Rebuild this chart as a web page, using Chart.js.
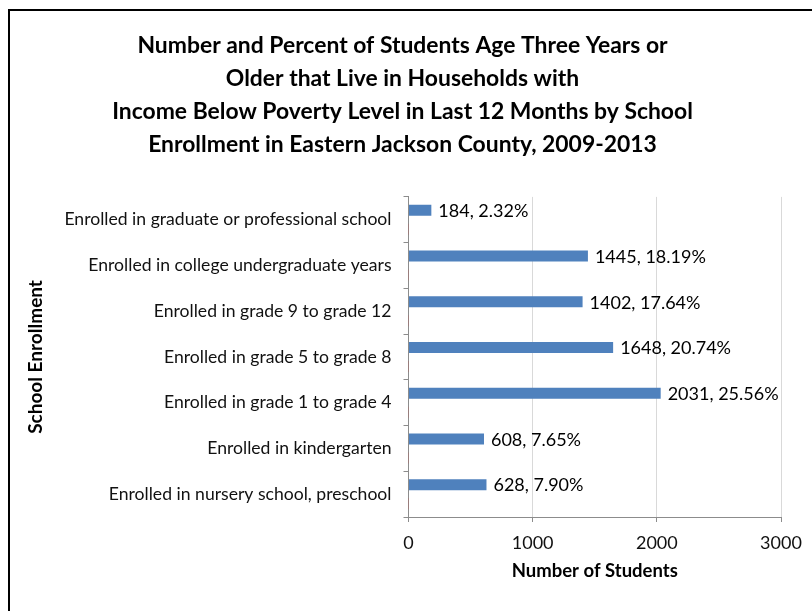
<!DOCTYPE html>
<html>
<head>
<meta charset="utf-8">
<script src="https://cdn.jsdelivr.net/npm/chart.js@4.4.1/dist/chart.umd.min.js"></script>
<style>
  html, body { margin: 0; padding: 0; background: #fff; overflow: hidden; }
  #frame { position: absolute; left: 8px; top: 9px; width: 900px; height: 700px;
           border-left: 2px solid #000; border-top: 2px solid #000; }
  #enrollChart { position: absolute; left: 0; top: 0; }
</style>
</head>
<body>
<div id="frame"></div>
<canvas id="enrollChart" width="812" height="611"></canvas>
<script>
const categories = [
  'Enrolled in graduate or professional school',
  'Enrolled in college undergraduate years',
  'Enrolled in grade 9 to grade 12',
  'Enrolled in grade 5 to grade 8',
  'Enrolled in grade 1 to grade 4',
  'Enrolled in kindergarten',
  'Enrolled in nursery school, preschool'
];
const students = [184, 1445, 1402, 1648, 2031, 608, 628];
const percents = [2.32, 18.19, 17.64, 20.74, 25.56, 7.65, 7.90];
const xTicks = [0, 1000, 2000, 3000];

const FONT = 'Lato, Calibri, sans-serif';

// "value, percent%" text to the right of each count bar
const barLabels = {
  id: 'barLabels',
  afterDatasetsDraw(chart) {
    const ctx = chart.ctx;
    const meta = chart.getDatasetMeta(0);
    ctx.save();
    ctx.font = '18px ' + FONT;
    ctx.fillStyle = '#000';
    ctx.textAlign = 'left';
    ctx.textBaseline = 'middle';
    meta.data.forEach((bar, i) => {
      ctx.fillText(students[i] + ', ' + percents[i].toFixed(2) + '%', bar.x + 7, bar.y + 1);
    });
    ctx.restore();
  }
};

new Chart(document.getElementById('enrollChart').getContext('2d'), {
  type: 'bar',
  data: {
    labels: categories,
    datasets: [{
      label: 'Number of Students',
      data: students,
      backgroundColor: '#4F81BD',
      borderWidth: 0,
      categoryPercentage: 0.83,
      barPercentage: 0.58
    }, {
      // share of students, stored as a fraction on the same axis
      label: 'Percent',
      data: percents.map(p => p / 100),
      backgroundColor: '#C0504D',
      categoryPercentage: 0.83,
      barPercentage: 0.58
    }]
  },
  options: {
    indexAxis: 'y',
    responsive: false,
    animation: false,
    layout: { padding: { left: 24, right: 31, top: 0, bottom: 29 } },
    plugins: {
      legend: { display: false },
      tooltip: { enabled: false },
      title: {
        display: true,
        text: [
          'Number and Percent of Students Age Three Years or',
          'Older that Live in Households with',
          'Income Below Poverty Level in Last 12 Months by School',
          'Enrollment in Eastern Jackson County, 2009-2013'
        ],
        color: '#000',
        font: { family: FONT, size: 22.9, weight: 'bold', lineHeight: 1.44 },
        padding: { top: 29, bottom: 36 }
      }
    },
    scales: {
      x: {
        min: 0,
        max: 3000,
        afterBuildTicks(scale) { scale.ticks = xTicks.map(v => ({ value: v })); },
        afterFit(scale) { scale.height = 65; },
        ticks: {
          color: '#111',
          font: { family: FONT, size: 18 },
          padding: 10,
          callback: v => String(v)
        },
        grid: { color: '#D9D9D9', tickColor: '#8C8C8C', tickLength: 5 },
        border: { color: '#8C8C8C' },
        title: {
          display: true,
          text: 'Number of Students',
          color: '#000',
          font: { family: FONT, size: 18.5, weight: 'bold' },
          padding: { top: 2, bottom: 0 }
        }
      },
      y: {
        afterFit(scale) { scale.width = 384.5; },
        ticks: { color: '#111', font: { family: FONT, size: 17.6 }, padding: 12 },
        grid: { drawOnChartArea: false, color: '#8C8C8C', tickLength: 5 },
        border: { color: '#8C8C8C' },
        title: {
          display: true,
          text: 'School Enrollment',
          color: '#000',
          font: { family: FONT, size: 19, weight: 'bold' },
          padding: 0
        }
      }
    }
  },
  plugins: [barLabels]
});
</script>
</body>
</html>
